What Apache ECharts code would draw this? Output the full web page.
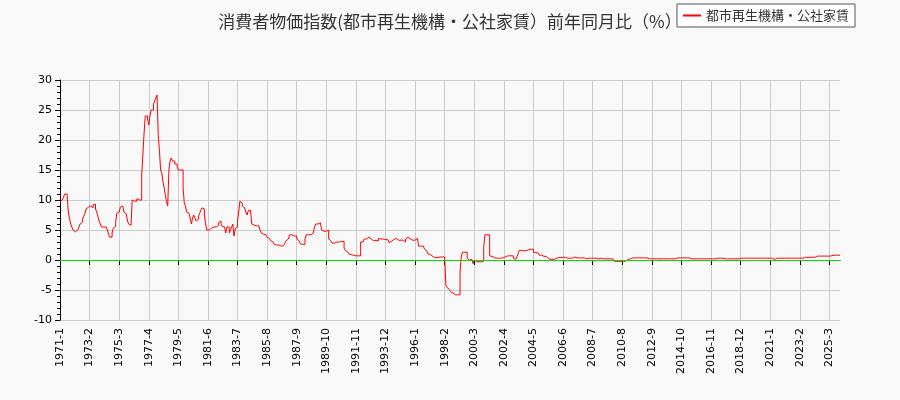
<!DOCTYPE html>
<html><head><meta charset="utf-8">
<script src="https://cdn.jsdelivr.net/npm/echarts@6/dist/echarts.min.js"></script>
<style>body{margin:0;background:#f9f9f9}#c{width:900px;height:400px}</style>
</head><body><div id="c"></div>
<script>
// yearly monthly values, 前年同月比 (%)
const y1971 = [9.7,10,10,10.5,11,11,10.8,8,7,6,5.5,5];
const y1972 = [4.7,4.7,5,5.2,5.5,6,6.3,6.8,7.3,7.7,8.5,8.8];
const y1973 = [8.9,9,9,8.7,9.2,9.3,8.5,8,7.3,6.5,6,5.5];
const y1974 = [5.5,5.5,5.5,5.5,5,4.3,3.8,3.8,4.5,5.3,5.6,6.3];
const y1975 = [7.8,8,8.3,8.8,9,9.2,8,7.7,7.5,6.5,6,5.8];
const y1976 = [6,10,9.8,9.6,9.8,10.2,10,10,10,14,17.5,21];
const y1977 = [24,24,23.5,22.5,24,25,25,26,26.5,27,27.5,20.8];
const y1978 = [18.3,15,14.5,13,12,10.8,9.7,9,15,16.5,17,16.5];
const y1979 = [16.5,16,16,15.5,15,15,15,15,12,9.5,9,8];
const y1980 = [7.8,7.5,7,6,7,7.5,7,6.5,6.8,7.2,7.8,8.3];
const y1981 = [8.7,8.5,7.5,6,5,5,5.2,5.3,5.3,5.5,5.5,5.5];
const y1982 = [5.5,5.8,6.2,6.5,6,5.6,5.5,5.2,4.5,5.5,5.5,4.5];
const y1983 = [5,5.5,6,4,5.2,5.5,6.5,8,9.8,9.5,9,8.7];
const y1984 = [8.5,8,7.5,8.2,8.3,8,6,5.8,5.7,5.7,6,5.7];
const y1985 = [5.5,5,4.5,4.3,4.3,4.2,4,3.8,3.6,3.4,3.2,3.0];
const y1986 = [2.8,2.6,2.5,2.4,2.5,2.4,2.3,2.3,2.4,2.5,2.8,3.2];
const y1987 = [3.5,3.8,4.2,4.2,4.2,4.0,4.2,4.0,3.5,3.2,3.0,2.7];
const y1988 = [2.6,2.6,2.6,3.5,4.2,4.2,4.2,4.2,4.2,4.5,4.5,5.5];
const y1989 = [6,6,6.2,6.2,6,5,4.8,4.8,4.8,5,5,3.5];
const y1990 = [3.2,3.0,2.8,2.8,3,3,3,3,3.1,3.1,3.1,3.1];
const y1991 = [2,1.6,1.4,1.2,1.0,0.9,0.8,0.8,0.7,0.7,0.7,0.7];
const y1992 = [0.7,0.7,3,3,3.2,3.5,3.5,3.6,3.8,3.8,3.5,3.4];
const y1993 = [3.2,3.4,3.3,3.4,3.2,3.6,3.5,3.4,3.5,3.3,3.4,3.5];
const y1994 = [3.4,3.3,2.9,3.1,3.2,3.4,3.5,3.6,3.4,3.3,3.2,3.3];
const y1995 = [3.5,3.3,3.0,3.0,3.5,3.8,3.5,3.5,3.4,3.3,3.3,3.3];
const y1996 = [3.3,3.6,3.4,2.3,2.3,2.3,2.3,2.1,1.8,1.5,1.2,1.0];
const y1997 = [0.9,0.8,0.6,0.5,0.4,0.4,0.4,0.5,0.5,0.5,0.5,0.5];
const y1998 = [0.5,0.5,-4.2,-4.6,-4.9,-5.1,-5.3,-5.5,-5.6,-5.8,-5.7,-5.8];
const y1999 = [-5.8,-5.8,-2,0.5,1.3,1.3,1.3,1.3,0.3,0,-0.3,0.1];
const y2000 = [0,-0.6,0,-0.3,-0.3,-0.3,-0.3,-0.3,-0.3,-0.2,2.2,4.2];
const y2001 = [4.2,4.2,4.2,0.7,0.6,0.5,0.4,0.3,0.3,0.3,0.3,0.3];
const y2002 = [0.3,0.3,0.4,0.5,0.6,0.6,0.7,0.6,0.7,0.6,0.7,0.3];
const y2003 = [0.1,0.2,0.5,1.0,1.6,1.6,1.6,1.5,1.6,1.6,1.6,1.7];
const y2004 = [1.7,1.8,1.8,1.8,1.3,1.2,1.2,1.2,1.0,0.8,0.8,0.7];
const y2005 = [0.6,0.4,0.6,0.3,0.2,0.1,0.1,0.2,0.1,0.1,0.2,0.3];
const y2006 = [0.4,0.4,0.4,0.45,0.45,0.45,0.45,0.3,0.3,0.3,0.3,0.3];
const y2007 = [0.3,0.3,0.5,0.55,0.35,0.35,0.35,0.35,0.35,0.35,0.35,0.35];
const y2008 = [0.2,0.3,0.3,0.3,0.3,0.3,0.3,0.3,0.3,0.3,0.2,0.2];
const y2009 = [0.3,0.2,0.2,0.2,0.2,0.2,0.2,0.2,0.2,0.2,0.2,0.2];
const y2010 = [-0.2,-0.2,-0.25,-0.25,-0.2,-0.2,-0.2,-0.2,-0.2,-0.2,-0.1,0.1];
const y2011 = [0.2,0.2,0.2,0.35,0.35,0.35,0.35,0.35,0.35,0.35,0.35,0.35];
const y2012 = [0.35,0.35,0.35,0.35,0.2,0.2,0.2,0.2,0.2,0.2,0.2,0.2];
const y2013 = [0.2,0.2,0.2,0.2,0.2,0.2,0.2,0.2,0.2,0.2,0.2,0.2];
const y2014 = [0.2,0.2,0.2,0.2,0.2,0.35,0.35,0.35,0.35,0.35,0.35,0.35];
const y2015 = [0.35,0.35,0.35,0.35,0.35,0.2,0.2,0.2,0.2,0.2,0.2,0.2];
const y2016 = [0.2,0.2,0.2,0.2,0.2,0.2,0.2,0.2,0.2,0.2,0.2,0.2];
const y2017 = [0.2,0.2,0.3,0.3,0.3,0.3,0.3,0.3,0.3,0.2,0.2,0.2];
const y2018 = [0.2,0.2,0.2,0.2,0.2,0.2,0.2,0.2,0.2,0.2,0.3,0.3];
const y2019 = [0.3,0.3,0.3,0.3,0.3,0.3,0.3,0.3,0.3,0.3,0.3,0.3];
const y2020 = [0.3,0.3,0.3,0.3,0.3,0.3,0.3,0.3,0.3,0.3,0.3,0.3];
const y2021 = [0.3,0.3,0.3,0.1,0.3,0.3,0.3,0.3,0.3,0.3,0.3,0.3];
const y2022 = [0.3,0.3,0.3,0.3,0.3,0.3,0.3,0.3,0.3,0.3,0.3,0.3];
const y2023 = [0.3,0.3,0.3,0.3,0.45,0.45,0.45,0.45,0.45,0.45,0.45,0.45];
const y2024 = [0.45,0.45,0.45,0.65,0.65,0.65,0.65,0.65,0.65,0.65,0.65,0.65];
const y2025 = [0.65,0.65,0.65,0.7,0.7,0.8,0.8,0.8,0.8,0.8,0.8,0.8];

const years = [y1971,y1972,y1973,y1974,y1975,y1976,y1977,y1978,y1979,y1980,y1981,y1982,y1983,y1984,y1985,y1986,y1987,y1988,y1989,y1990,y1991,y1992,y1993,y1994,y1995,y1996,y1997,y1998,y1999,y2000,y2001,y2002,y2003,y2004,y2005,y2006,y2007,y2008,y2009,y2010,y2011,y2012,y2013,y2014,y2015,y2016,y2017,y2018,y2019,y2020,y2021,y2022,y2023,y2024,y2025];

const months = [];
const values = [];
years.forEach((arr, i) => arr.forEach((v, j) => { months.push((1971 + i) + '-' + (j + 1)); values.push(v); }));

const chart = echarts.init(document.getElementById('c'));
chart.setOption({
  backgroundColor: '#f9f9f9',
  animation: false,
  title: {
    text: '消費者物価指数(都市再生機構・公社家賃）前年同月比（%）',
    left: 'center', top: 8,
    textStyle: { fontSize: 17, fontWeight: 'normal', color: '#333', fontFamily: 'Noto Sans CJK JP' }
  },
  legend: {
    right: 45, top: 4, z: 10,
    backgroundColor: '#fff', borderColor: '#555', borderWidth: 1, borderRadius: 0,
    padding: [5, 6], itemWidth: 18, itemHeight: 2, icon: 'rect',
    textStyle: { fontSize: 13, color: '#333', fontFamily: 'Noto Sans CJK JP' }
  },
  grid: { left: 60, right: 60, top: 80, bottom: 80 },
  xAxis: {
    type: 'category', data: months, boundaryGap: false,
    axisLine: { lineStyle: { color: '#000' } },
    axisTick: { interval: 24, lineStyle: { color: '#000' } },
    axisLabel: { interval: 24, rotate: 90, fontSize: 11, color: '#000', fontFamily: 'DejaVu Sans' },
    splitLine: { show: true, interval: 24, lineStyle: { color: '#ccc' } }
  },
  yAxis: {
    type: 'value', min: -10, max: 30, interval: 5,
    axisLine: { show: true, lineStyle: { color: '#000' } },
    axisTick: { show: true, lineStyle: { color: '#000' } },
    minorTick: { show: true, splitNumber: 5, length: 3, lineStyle: { color: '#000' } },
    axisLabel: { fontSize: 11, color: '#000', fontFamily: 'DejaVu Sans' },
    splitLine: { lineStyle: { color: '#ccc' } }
  },
  series: [{
    name: '都市再生機構・公社家賃', type: 'line', data: values,
    showSymbol: false, color: '#ff0000', lineStyle: { width: 1 },
    step: 'end',
    markLine: {
      silent: true, symbol: 'none', label: { show: false },
      lineStyle: { color: '#00dd00', type: 'solid', width: 1 },
      data: [{ yAxis: 0 }]
    }
  }]
});
</script>
</body></html>
